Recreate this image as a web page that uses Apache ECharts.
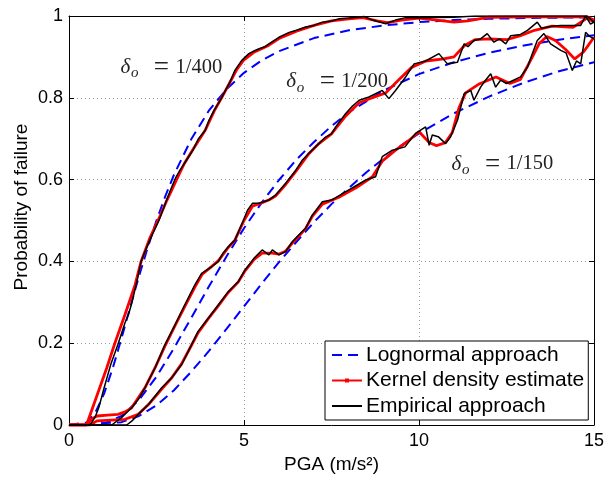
<!DOCTYPE html>
<html><head><meta charset="utf-8">
<script src="https://cdn.jsdelivr.net/npm/echarts@6/dist/echarts.min.js"></script>
<style>html,body{margin:0;padding:0;background:#fff}#c{width:607px;height:479px}</style>
</head><body><div id="c"></div><script>
// ---- Data (PGA in m/s^2, probability of failure) ----
const xTicks = [0, 5, 10, 15];
const yTicks = [0, 0.2, 0.4, 0.6, 0.8, 1];
const seriesNames = ['Lognormal approach', 'Kernel density estimate', 'Empirical approach'];
const deltaLabels = ['1/400', '1/200', '1/150'];
const labelAnchors = [[1.47, 0.875], [6.21, 0.839], [10.93, 0.638]];

// Lognormal approach (blue dashed)
const logn400 = [[0,0],[0.5,0.006],[0.75,0.03],[1,0.076],[1.25,0.139],[1.5,0.212],[1.75,0.289],[2,0.364],[2.25,0.434],[2.5,0.5],[2.75,0.559],[3,0.612],[3.5,0.7],[4,0.769],[4.5,0.821],[5,0.861],[5.5,0.891],[6,0.914],[7,0.946],[8,0.965],[9,0.977],[10,0.985],[11,0.99],[12,0.993],[13,0.995],[14,0.996],[15,0.997]];
const logn200 = [[0,0],[1,0.004],[1.5,0.022],[2,0.061],[2.5,0.118],[3,0.188],[3.5,0.263],[4,0.339],[4.5,0.412],[5,0.481],[5.5,0.543],[6,0.599],[6.5,0.649],[7,0.692],[7.5,0.731],[8,0.765],[9,0.818],[10,0.858],[11,0.887],[12,0.91],[13,0.928],[14,0.942],[15,0.953]];
const logn150 = [[0,0],[1.5,0.007],[2,0.022],[2.5,0.048],[3,0.085],[3.5,0.131],[4,0.181],[4.5,0.235],[5,0.29],[5.5,0.345],[6,0.398],[6.5,0.448],[7,0.496],[7.5,0.54],[8,0.58],[8.5,0.618],[9,0.652],[9.5,0.684],[10,0.713],[11,0.762],[12,0.803],[13,0.837],[14,0.865],[15,0.887]];

// Kernel density estimate (red)
const kde400 = [[0,0],[0.5,0],[0.69,0.046],[0.84,0.082],[1.08,0.14],[1.31,0.2],[1.6,0.27],[1.89,0.343],[2.06,0.4],[2.3,0.455],[2.57,0.505],[2.8,0.55],[3.1,0.605],[3.3,0.64],[3.55,0.675],[3.9,0.722],[4.15,0.768],[4.36,0.8],[4.6,0.838],[4.8,0.87],[5,0.893],[5.3,0.912],[5.7,0.928],[6,0.945],[6.5,0.963],[7,0.977],[7.5,0.988],[8,0.993],[8.4,0.996],[8.8,0.988],[9.1,0.984],[9.5,0.99],[10,0.995],[10.5,0.99],[11,0.985],[11.4,0.988],[12,0.997],[13,0.998],[14,0.998],[14.8,0.998],[15,0.99]];
const kde200 = [[0,0],[0.5,0],[0.65,0.015],[0.8,0.022],[1.1,0.024],[1.4,0.026],[1.6,0.032],[1.79,0.042],[2.17,0.091],[2.46,0.14],[2.74,0.193],[3.03,0.243],[3.31,0.29],[3.6,0.338],[3.8,0.368],[4.08,0.388],[4.27,0.402],[4.55,0.434],[4.74,0.452],[5,0.5],[5.24,0.535],[5.5,0.543],[5.71,0.55],[5.9,0.56],[6.19,0.588],[6.48,0.62],[6.86,0.664],[7.14,0.688],[7.5,0.712],[7.9,0.755],[8.29,0.788],[8.67,0.8],[9.05,0.812],[9.43,0.845],[9.8,0.875],[10.2,0.89],[10.7,0.895],[11,0.9],[11.3,0.928],[11.6,0.942],[12,0.944],[12.5,0.942],[12.9,0.952],[13.3,0.965],[13.8,0.975],[14.4,0.972],[14.8,0.995],[15,0.985]];
const kde150 = [[0,0],[0.6,0],[0.8,0.01],[1.2,0.012],[1.6,0.014],[1.98,0.026],[2.27,0.05],[2.65,0.088],[2.93,0.115],[3.22,0.15],[3.5,0.195],[3.69,0.226],[3.98,0.26],[4.27,0.292],[4.55,0.324],[4.84,0.35],[5.03,0.377],[5.29,0.405],[5.52,0.42],[5.8,0.42],[6,0.418],[6.19,0.425],[6.38,0.445],[6.57,0.462],[6.76,0.48],[6.95,0.51],[7.24,0.54],[7.71,0.557],[8.2,0.58],[8.67,0.607],[8.95,0.645],[9.33,0.672],[9.7,0.695],[10,0.717],[10.3,0.69],[10.5,0.683],[10.75,0.69],[10.95,0.715],[11.14,0.775],[11.33,0.812],[11.7,0.833],[12.2,0.851],[12.6,0.835],[12.9,0.845],[13.24,0.9],[13.43,0.932],[13.65,0.95],[13.9,0.94],[14.19,0.918],[14.45,0.895],[14.7,0.912],[14.85,0.93],[15,0.948]];

// Empirical approach (black)
const emp400 = [[0,0],[0.6,0],[0.75,0.02],[0.85,0.042],[1,0.09],[1.2,0.15],[1.41,0.2],[1.6,0.25],[1.7,0.27],[1.8,0.3],[1.95,0.355],[2.06,0.4],[2.2,0.43],[2.35,0.46],[2.57,0.5],[2.79,0.55],[2.95,0.585],[3.05,0.605],[3.17,0.623],[3.3,0.64],[3.54,0.672],[3.7,0.7],[3.89,0.72],[4,0.745],[4.15,0.77],[4.36,0.8],[4.45,0.815],[4.58,0.835],[4.74,0.867],[4.93,0.891],[5.14,0.908],[5.3,0.915],[5.43,0.92],[5.6,0.925],[5.71,0.932],[6,0.948],[6.29,0.96],[6.5,0.965],[6.76,0.973],[7,0.977],[7.24,0.985],[7.5,0.988],[7.71,0.993],[8,0.995],[8.43,0.999],[8.67,0.99],[9.05,0.981],[9.33,0.99],[9.62,0.996],[10,0.996],[11,0.997],[11.6,1],[13,1],[14.5,1],[14.8,1],[15,0.985]];
const emp200 = [[0,0],[1.22,0],[1.5,0.018],[1.79,0.042],[2,0.065],[2.17,0.091],[2.46,0.14],[2.74,0.196],[3.03,0.245],[3.31,0.294],[3.6,0.343],[3.79,0.371],[3.95,0.38],[4.08,0.387],[4.27,0.4],[4.4,0.42],[4.55,0.436],[4.74,0.452],[4.98,0.5],[5.1,0.525],[5.24,0.542],[5.43,0.542],[5.71,0.55],[5.9,0.562],[6.19,0.591],[6.48,0.623],[6.67,0.648],[6.86,0.665],[7.14,0.688],[7.33,0.704],[7.5,0.712],[7.62,0.729],[7.9,0.761],[8.1,0.78],[8.29,0.794],[8.57,0.802],[8.95,0.818],[9.14,0.798],[9.33,0.818],[9.62,0.851],[9.86,0.883],[10.19,0.89],[10.57,0.908],[10.81,0.883],[11.1,0.887],[11.29,0.932],[11.4,0.925],[11.57,0.94],[11.76,0.944],[11.95,0.957],[12.14,0.936],[12.3,0.944],[12.48,0.932],[12.62,0.952],[12.9,0.955],[13.1,0.965],[13.38,0.985],[13.5,0.97],[13.8,0.975],[14.05,0.977],[14.62,0.977],[14.76,1],[14.9,0.98],[15,0.985]];
const emp150 = [[0,0],[1.65,0],[1.8,0.01],[1.98,0.026],[2.27,0.05],[2.65,0.091],[2.93,0.115],[3.22,0.148],[3.5,0.196],[3.69,0.229],[3.98,0.261],[4.27,0.294],[4.55,0.326],[4.84,0.351],[5.03,0.379],[5.14,0.391],[5.29,0.408],[5.52,0.428],[5.71,0.416],[5.81,0.428],[6,0.416],[6.19,0.424],[6.38,0.448],[6.57,0.465],[6.76,0.481],[6.95,0.513],[7.24,0.546],[7.5,0.55],[7.9,0.57],[8.2,0.585],[8.48,0.599],[8.76,0.607],[8.95,0.656],[9.24,0.672],[9.6,0.68],[9.9,0.713],[10.19,0.729],[10.29,0.684],[10.38,0.709],[10.55,0.705],[10.76,0.688],[10.9,0.704],[11.1,0.745],[11.29,0.81],[11.48,0.818],[11.57,0.794],[11.76,0.826],[11.9,0.843],[12.05,0.859],[12.19,0.826],[12.33,0.843],[12.5,0.835],[12.7,0.843],[12.9,0.851],[13.1,0.875],[13.24,0.908],[13.38,0.94],[13.57,0.957],[13.76,0.932],[14.05,0.916],[14.2,0.91],[14.38,0.867],[14.5,0.89],[14.62,0.883],[14.76,0.96],[14.88,0.95],[15,0.944]];

// ---- Chart ----
const chart = echarts.init(document.getElementById('c'), null, {renderer: 'canvas'});
const sans = '"Liberation Sans", Arial, Helvetica, sans-serif';
const serif = '"Liberation Serif", "Times New Roman", serif';
const gridStyle = {show: true, lineStyle: {color: '#999', width: 1, type: [1, 3]}};
const frameLine = {show: true, onZero: false, lineStyle: {color: '#000', width: 1}};
const noMarker = {color: 'rgba(0,0,0,0)', borderColor: 'rgba(0,0,0,0)', borderWidth: 0};

function lognSeries(d) {
  return {name: seriesNames[0], type: 'line', data: d, symbol: 'none', smooth: false, z: 2,
    lineStyle: {color: '#0000ff', width: 2, type: [10, 6]}, itemStyle: {color: '#0000ff'}};
}
function kdeSeries(d) {
  return {name: seriesNames[1], type: 'line', data: d, symbol: 'rect', symbolSize: 4, showSymbol: false, z: 3,
    lineStyle: {color: '#ff0000', width: 2.8}, itemStyle: {color: '#ff0000'}};
}
function empSeries(d) {
  return {name: seriesNames[2], type: 'line', data: d, symbol: 'none', z: 4,
    lineStyle: {color: '#000', width: 1.5}, itemStyle: {color: '#000'}};
}

const option = {
  animation: false,
  backgroundColor: '#fff',
  grid: {left: 69, right: 12, top: 16, bottom: 54},
  xAxis: [
    {type: 'value', min: xTicks[0], max: xTicks[xTicks.length - 1], interval: 5, position: 'bottom',
      axisLine: frameLine, axisTick: {show: true, inside: true, length: 5, lineStyle: {color: '#000'}},
      axisLabel: {color: '#000', fontSize: 18, fontFamily: sans, margin: 7},
      splitLine: gridStyle,
      name: 'PGA (m/s²)', nameLocation: 'middle', nameGap: 27,
      nameTextStyle: {color: '#000', fontSize: 19, fontFamily: sans}},
    {type: 'value', min: xTicks[0], max: xTicks[xTicks.length - 1], interval: 5, position: 'top',
      axisLine: frameLine, axisTick: {show: true, inside: true, length: 5, lineStyle: {color: '#000'}},
      axisLabel: {show: false}, splitLine: {show: false}}
  ],
  yAxis: [
    {type: 'value', min: yTicks[0], max: yTicks[yTicks.length - 1], interval: 0.2, position: 'left',
      axisLine: frameLine, axisTick: {show: true, inside: true, length: 5, lineStyle: {color: '#000'}},
      axisLabel: {color: '#000', fontSize: 18, fontFamily: sans, margin: 6},
      splitLine: gridStyle},
    {type: 'value', min: yTicks[0], max: yTicks[yTicks.length - 1], interval: 0.2, position: 'right',
      axisLine: frameLine, axisTick: {show: true, inside: true, length: 5, lineStyle: {color: '#000'}},
      axisLabel: {show: false}, splitLine: {show: false}}
  ],
  legend: {
    data: [
      {name: seriesNames[0], itemStyle: noMarker},
      {name: seriesNames[1]},
      {name: seriesNames[2], itemStyle: noMarker}
    ],
    orient: 'vertical', left: 325, top: 341,
    backgroundColor: '#fff', borderColor: '#000', borderWidth: 1, borderRadius: 0,
    padding: [3, 4, 3, 6], itemWidth: 30, itemHeight: 5, itemGap: 3.5,
    textStyle: {color: '#000', fontSize: 21, fontFamily: sans, lineHeight: 22, padding: [0, 0, 0, -1]}
  },
  series: [
    lognSeries(logn400), lognSeries(logn200), lognSeries(logn150),
    kdeSeries(kde400), kdeSeries(kde200), kdeSeries(kde150),
    empSeries(emp400), empSeries(emp200), empSeries(emp150)
  ]
};
chart.setOption(option);

// Annotations: delta_o = 1/xxx, and rotated y-axis title
const gfx = [];
labelAnchors.forEach(function (a, i) {
  const p = chart.convertToPixel({xAxisIndex: 0, yAxisIndex: 0}, a);
  const x = p[0], y = p[1];
  gfx.push({type: 'text', x: x, y: y, style: {text: 'δ', font: 'italic 21px ' + serif, fill: '#222', verticalAlign: 'middle', align: 'left'}});
  gfx.push({type: 'text', x: x + 10.5, y: y + 6, style: {text: 'o', font: 'italic 15px ' + serif, fill: '#222', verticalAlign: 'middle', align: 'left'}});
  gfx.push({type: 'text', x: x + 41, y: y + 0.5, style: {text: '=', font: '27px ' + serif, fill: '#222', verticalAlign: 'middle', align: 'center'}});
  gfx.push({type: 'text', x: x + 55, y: y, style: {text: deltaLabels[i], font: '20.5px ' + serif, fill: '#222', verticalAlign: 'middle', align: 'left'}});
});
gfx.push({type: 'text', x: 22, y: 207, rotation: Math.PI / 2,
  style: {text: 'Probability of failure', font: '19px ' + sans, fill: '#000', align: 'center', verticalAlign: 'middle'}});
chart.setOption({graphic: gfx});
</script></body></html>
